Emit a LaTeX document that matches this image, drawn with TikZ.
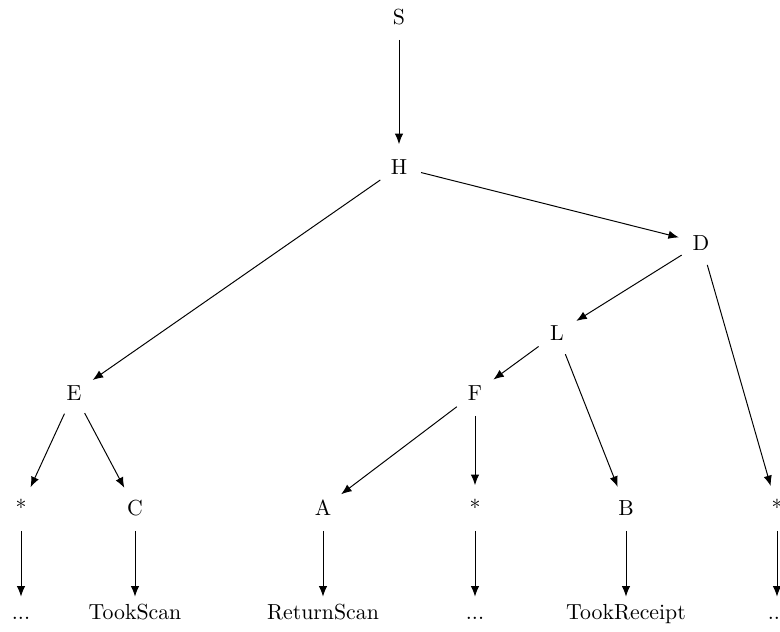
\documentclass[tikz,border=0pt]{standalone}
\usetikzlibrary{arrows.meta}
\begin{document}
\begin{tikzpicture}
[x=0.4587pt,y=-0.4587pt,
every node/.style={text height=7pt,text depth=0pt},
state/.style={circle,inner sep=0pt,minimum size=20.5pt},
leaf/.style={inner sep=3.33pt},
edge/.style={-{Latex[length=4.8pt,width=3.8pt]},line width=0.45pt}]
\useasboundingbox (0,0) rectangle (780,632);
\node[state] (s) at (399,17) {S};
\node[state] (h) at (399,167) {H};
\node[state] (d) at (701,243) {D};
\node[state] (l) at (557,333) {L};
\node[state] (e) at (74,393) {E};
\node[state] (f) at (475,393) {F};
\node[state] (star1) at (21,508) {*};
\node[state] (c) at (135,508) {C};
\node[state] (a) at (323,508) {A};
\node[state] (star2) at (475,508) {*};
\node[state] (b) at (626,508) {B};
\node[state] (star3) at (777,508) {*};
\node[leaf] (dots1) at (21,612) {...};
\node[leaf] (tookscan) at (135,612) {TookScan};
\node[leaf] (returnscan) at (323,612) {ReturnScan};
\node[leaf] (dots2) at (475,612) {...};
\node[leaf] (tookreceipt) at (626,612) {TookReceipt};
\node[leaf] (dots3) at (777,612) {...};
\draw[edge] (s) -- (h);
\draw[edge] (h) -- (e);
\draw[edge] (h) -- (d);
\draw[edge] (d) -- (l);
\draw[edge] (d) -- (star3);
\draw[edge] (l) -- (f);
\draw[edge] (l) -- (b);
\draw[edge] (e) -- (star1);
\draw[edge] (e) -- (c);
\draw[edge] (f) -- (a);
\draw[edge] (f) -- (star2);
\draw[edge] (star1) -- (dots1);
\draw[edge] (c) -- (tookscan);
\draw[edge] (a) -- (returnscan);
\draw[edge] (star2) -- (dots2);
\draw[edge] (b) -- (tookreceipt);
\draw[edge] (star3) -- (dots3);
\end{tikzpicture}
\end{document}
